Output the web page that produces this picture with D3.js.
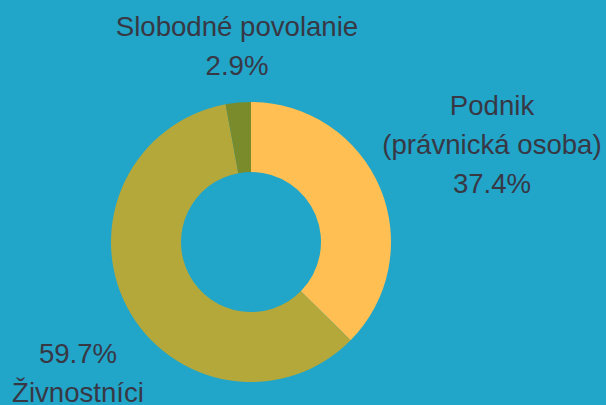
<!DOCTYPE html>
<html><head><meta charset="utf-8">
<script src="https://cdn.jsdelivr.net/npm/d3@7"></script>
<style>body{margin:0;background:#21a5c9;}svg{display:block;}</style>
</head><body>
<svg id="c" width="606" height="405"></svg>
<script>
const categories = ["Podnik (právnická osoba)", "Živnostníci", "Slobodné povolanie"];
const values = [37.4, 59.7, 2.9];
const labelLines = [["Podnik", "(právnická osoba)", "37.4%"], ["59.7%", "Živnostníci"], ["Slobodné povolanie", "2.9%"]];
const colors = ["#ffbf52", "#b5a83a", "#798b2a"];

const W = 606, H = 405;
const cx = 251, cy = 242, rOuter = 140, rInner = 70;
const svg = d3.select("#c");
svg.append("rect").attr("width", W).attr("height", H).attr("fill", "#21a5c9");
const g = svg.append("g").attr("transform", `translate(${cx},${cy})`);
const pie = d3.pie().sort(null).value(d => d)(values);
const arc = d3.arc().innerRadius(rInner).outerRadius(rOuter);
g.selectAll("path").data(pie).enter().append("path")
  .attr("d", arc).attr("fill", (d, i) => colors[i]);

// label anchor positions (center x, first baseline y) relative to page
const labelPos = [[492, 115], [78, 363], [237, 36]];
const lineH = 39;
labelLines.forEach((lines, i) => {
  const t = svg.append("text").attr("text-anchor", "middle")
    .attr("font-family", "Liberation Sans, Arial, sans-serif")
    .attr("font-size", 27.6).attr("fill", "#383845");
  lines.forEach((s, j) => {
    t.append("tspan").attr("x", labelPos[i][0]).attr("y", labelPos[i][1] + j * lineH).text(s);
  });
});
</script>
</body></html>
